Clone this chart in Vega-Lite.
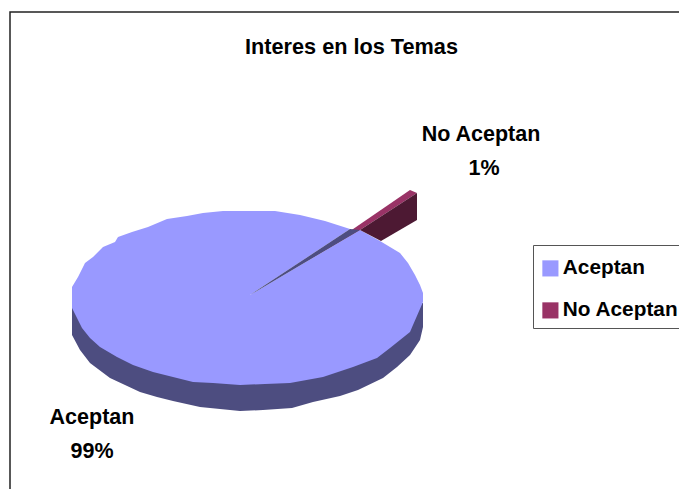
{"$schema":"https://vega.github.io/schema/vega-lite/v6.json","width":679,"height":489,"padding":0,"autosize":{"type":"none"},"background":"white","view":{"stroke":null},"title":{"text":"Interes en los Temas","font":"Liberation Sans","fontWeight":"bold","fontSize":21.7,"color":"#000000","anchor":"middle","frame":"group","dx":12,"dy":59,"offset":0},"datasets":{"formas":[
{"parte":"marco","ord":1,"x":-237,"y":-192},{"parte":"marco","ord":2,"x":-237,"y":285},{"parte":"marco","ord":3,"x":432,"y":285},
{"parte":"lado","ord":1,"x":-175,"y":-11},{"parte":"lado","ord":2,"x":-175,"y":-38},{"parte":"lado","ord":3,"x":-167,"y":-53},{"parte":"lado","ord":4,"x":-157,"y":-66},{"parte":"lado","ord":5,"x":-137,"y":-81},{"parte":"lado","ord":6,"x":-122,"y":-88},{"parte":"lado","ord":7,"x":-107,"y":-95},{"parte":"lado","ord":8,"x":-90,"y":-100},{"parte":"lado","ord":9,"x":-74,"y":-104},{"parte":"lado","ord":10,"x":-47,"y":-110},{"parte":"lado","ord":11,"x":-27,"y":-112},{"parte":"lado","ord":12,"x":-7,"y":-114},{"parte":"lado","ord":13,"x":16,"y":-113},{"parte":"lado","ord":14,"x":45,"y":-111},{"parte":"lado","ord":15,"x":66,"y":-105},{"parte":"lado","ord":16,"x":93,"y":-99},{"parte":"lado","ord":17,"x":111,"y":-93},{"parte":"lado","ord":18,"x":136,"y":-81},{"parte":"lado","ord":19,"x":150,"y":-70},{"parte":"lado","ord":20,"x":163,"y":-58},{"parte":"lado","ord":21,"x":173,"y":-43},{"parte":"lado","ord":22,"x":176,"y":-30},{"parte":"lado","ord":23,"x":176,"y":-6},
{"parte":"cara","serie":"Aceptan","ord":1,"x":-175,"y":10},{"parte":"cara","serie":"Aceptan","ord":2,"x":-169,"y":20},{"parte":"cara","serie":"Aceptan","ord":3,"x":-162,"y":34},{"parte":"cara","serie":"Aceptan","ord":4,"x":-154,"y":40},{"parte":"cara","serie":"Aceptan","ord":5,"x":-144,"y":50},{"parte":"cara","serie":"Aceptan","ord":6,"x":-132,"y":55},{"parte":"cara","serie":"Aceptan","ord":7,"x":-129,"y":60},{"parte":"cara","serie":"Aceptan","ord":8,"x":-115,"y":65},{"parte":"cara","serie":"Aceptan","ord":9,"x":-99,"y":70},{"parte":"cara","serie":"Aceptan","ord":10,"x":-80,"y":78},{"parte":"cara","serie":"Aceptan","ord":11,"x":-60,"y":81},{"parte":"cara","serie":"Aceptan","ord":12,"x":-44,"y":84},{"parte":"cara","serie":"Aceptan","ord":13,"x":-24,"y":86},{"parte":"cara","serie":"Aceptan","ord":14,"x":28,"y":86},{"parte":"cara","serie":"Aceptan","ord":15,"x":53,"y":82},{"parte":"cara","serie":"Aceptan","ord":16,"x":78,"y":76},{"parte":"cara","serie":"Aceptan","ord":17,"x":103,"y":68},{"parte":"cara","serie":"Aceptan","ord":18,"x":3,"y":2},{"parte":"cara","serie":"Aceptan","ord":19,"x":113,"y":67},{"parte":"cara","serie":"Aceptan","ord":20,"x":133,"y":56},{"parte":"cara","serie":"Aceptan","ord":21,"x":143,"y":50},{"parte":"cara","serie":"Aceptan","ord":22,"x":153,"y":44},{"parte":"cara","serie":"Aceptan","ord":23,"x":161,"y":34},{"parte":"cara","serie":"Aceptan","ord":24,"x":168,"y":22},{"parte":"cara","serie":"Aceptan","ord":25,"x":173,"y":12},{"parte":"cara","serie":"Aceptan","ord":26,"x":176,"y":4},{"parte":"cara","serie":"Aceptan","ord":27,"x":176,"y":-5},{"parte":"cara","serie":"Aceptan","ord":28,"x":166,"y":-28},{"parte":"cara","serie":"Aceptan","ord":29,"x":163,"y":-35},{"parte":"cara","serie":"Aceptan","ord":30,"x":143,"y":-51},{"parte":"cara","serie":"Aceptan","ord":31,"x":130,"y":-61},{"parte":"cara","serie":"Aceptan","ord":32,"x":106,"y":-70},{"parte":"cara","serie":"Aceptan","ord":33,"x":76,"y":-80},{"parte":"cara","serie":"Aceptan","ord":34,"x":43,"y":-86},{"parte":"cara","serie":"Aceptan","ord":35,"x":18,"y":-87},{"parte":"cara","serie":"Aceptan","ord":36,"x":-7,"y":-88},{"parte":"cara","serie":"Aceptan","ord":37,"x":-34,"y":-86},{"parte":"cara","serie":"Aceptan","ord":38,"x":-54,"y":-85},{"parte":"cara","serie":"Aceptan","ord":39,"x":-74,"y":-80},{"parte":"cara","serie":"Aceptan","ord":40,"x":-94,"y":-75},{"parte":"cara","serie":"Aceptan","ord":41,"x":-114,"y":-68},{"parte":"cara","serie":"Aceptan","ord":42,"x":-130,"y":-60},{"parte":"cara","serie":"Aceptan","ord":43,"x":-147,"y":-50},{"parte":"cara","serie":"Aceptan","ord":44,"x":-157,"y":-41},{"parte":"cara","serie":"Aceptan","ord":45,"x":-165,"y":-31},{"parte":"cara","serie":"Aceptan","ord":46,"x":-175,"y":-11},
{"parte":"corte","ord":1,"x":3,"y":2},{"parte":"corte","ord":2,"x":103,"y":68},{"parte":"corte","ord":3,"x":113,"y":67},
{"parte":"pared","ord":1,"x":113,"y":67},{"parte":"pared","ord":2,"x":170,"y":104},{"parte":"pared","ord":3,"x":170,"y":77},{"parte":"pared","ord":4,"x":134,"y":56},
{"parte":"cara","serie":"No Aceptan","ord":1,"x":58,"y":35},{"parte":"cara","serie":"No Aceptan","ord":2,"x":163,"y":107},{"parte":"cara","serie":"No Aceptan","ord":3,"x":170,"y":104},{"parte":"cara","serie":"No Aceptan","ord":4,"x":113,"y":67}
],"porciones":[{"categoria":"Aceptan","valor":0.99,"lx":-155,"px":-155,"ly":-137},{"categoria":"No Aceptan","valor":0.01,"lx":234,"px":237,"ly":146}]},
"data":{"name":"formas"},
"encoding":{"x":{"field":"x","type":"quantitative","axis":null,"scale":{"domain":[-247,432],"nice":false,"zero":false}},"y":{"field":"y","type":"quantitative","axis":null,"scale":{"domain":[-192,297],"nice":false,"zero":false}},"order":{"field":"ord","type":"quantitative"}},
"layer":[
{"transform":[{"filter":"datum.parte==='marco'"}],"mark":{"type":"line","stroke":"#222222","strokeWidth":1.5,"interpolate":"linear"}},
{"transform":[{"filter":"datum.parte==='lado'"}],"mark":{"type":"line","fill":"#4D4D80","stroke":null}},
{"transform":[{"filter":"datum.parte==='cara'"}],"mark":{"type":"line","stroke":null},"encoding":{"fill":{"field":"serie","type":"nominal","scale":{"domain":["Aceptan","No Aceptan"],"range":["#9999FF","#993366"]},"legend":{"title":" ","titleFontSize":1,"titlePadding":5,"orient":"none","legendX":533,"legendY":245,"symbolType":"square","symbolSize":260,"symbolStrokeWidth":0,"labelFont":"Liberation Sans","labelFontWeight":"bold","labelFontSize":20.8,"labelColor":"#000000","labelLimit":200,"labelOffset":2,"rowPadding":20,"padding":7,"strokeColor":"#555555","fillColor":"#FFFFFF"}}}},
{"transform":[{"filter":"datum.parte==='corte'"}],"mark":{"type":"line","fill":"#4D4D80","stroke":null}},
{"transform":[{"filter":"datum.parte==='pared'"}],"mark":{"type":"line","fill":"#4D1933","stroke":null}},
{"data":{"name":"porciones"},"mark":{"type":"text","dy":-16,"font":"Liberation Sans","fontWeight":"bold","fontSize":21.5,"color":"#000000"},"encoding":{"x":{"field":"lx","type":"quantitative"},"y":{"field":"ly","type":"quantitative"},"text":{"field":"categoria","type":"nominal"},"order":null}},
{"data":{"name":"porciones"},"mark":{"type":"text","dy":18,"font":"Liberation Sans","fontWeight":"bold","fontSize":21.5,"color":"#000000"},"encoding":{"x":{"field":"px","type":"quantitative"},"y":{"field":"ly","type":"quantitative"},"text":{"field":"valor","type":"quantitative","format":".0%"},"order":null}}
]}
